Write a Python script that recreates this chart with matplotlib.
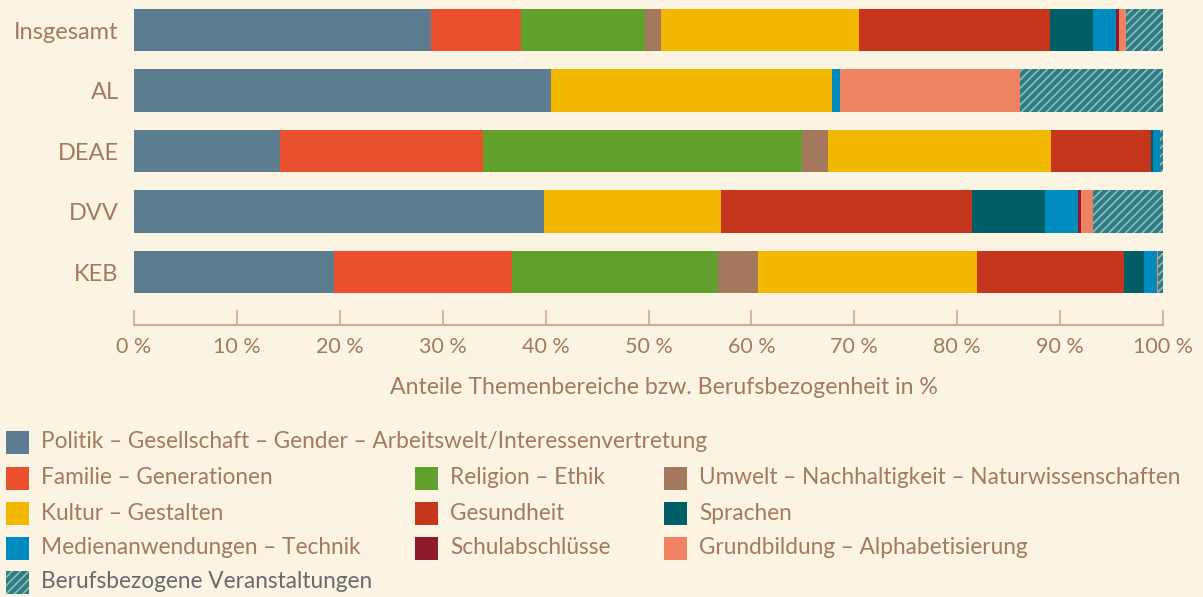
import numpy as np
import matplotlib.pyplot as plt
from matplotlib.patches import Rectangle

plt.rcParams['font.family'] = ['Lato', 'DejaVu Sans']
plt.rcParams['hatch.linewidth'] = 1.2

# Daten (Anteile in %)
groups = ['Insgesamt', 'AL', 'DEAE', 'DVV', 'KEB']

politik = [28.9, 40.5, 14.2, 39.8, 19.4]
familie = [8.7, 0.0, 19.7, 0.0, 17.3]
religion = [12.1, 0.0, 31.0, 0.0, 20.1]
umwelt = [1.5, 0.0, 2.5, 0.0, 3.8]
kultur = [19.3, 27.3, 21.7, 17.2, 21.3]
gesundheit = [18.5, 0.0, 9.7, 24.4, 14.3]
sprachen = [4.2, 0.0, 0.2, 7.1, 2.0]
medien = [2.2, 0.8, 0.7, 3.2, 1.2]
schule = [0.3, 0.0, 0.0, 0.3, 0.0]
grundbildung = [0.7, 17.5, 0.0, 1.2, 0.1]
beruf = [3.6, 13.9, 0.3, 6.8, 0.5]

labels = ['Politik – Gesellschaft – Gender – Arbeitswelt/Interessenvertretung',
          'Familie – Generationen', 'Religion – Ethik',
          'Umwelt – Nachhaltigkeit – Naturwissenschaften',
          'Kultur – Gestalten', 'Gesundheit', 'Sprachen',
          'Medienanwendungen – Technik', 'Schulabschlüsse',
          'Grundbildung – Alphabetisierung', 'Berufsbezogene Veranstaltungen']
series = [politik, familie, religion, umwelt, kultur, gesundheit,
          sprachen, medien, schule, grundbildung, beruf]
colors = ['#5b7d8f', '#e9502e', '#62a02e', '#a3785c', '#f2b800', '#c5361c',
          '#005f66', '#008bbf', '#8e1a2c', '#f08264', '#2e7b81']

bg = '#fcf4e3'
txt = '#a47a5d'

fig = plt.figure(figsize=(12.03, 5.97), dpi=100, facecolor=bg)
ax = fig.add_axes([134 / 1203, 1 - 325 / 597, 1029 / 1203, 325 / 597])
ax.set_facecolor(bg)

y = np.arange(len(groups))
left = np.zeros(len(groups))
for i, (vals, c) in enumerate(zip(series, colors)):
    if i == len(series) - 1:
        ax.barh(y, vals, left=left, height=0.7, color=c, edgecolor='#8cbcbf',
                linewidth=0, hatch='////')
    else:
        ax.barh(y, vals, left=left, height=0.7, color=c, linewidth=0)
    left += np.array(vals)

ax.set_xlim(0, 100)
ax.set_ylim(4 + 0.876, -0.496)
ax.set_yticks(y)
ax.set_yticklabels(groups)
ax.set_xticks(np.arange(0, 101, 10))
ax.set_xticklabels([f'{v} %' for v in range(0, 101, 10)])

for s in ['top', 'right', 'left']:
    ax.spines[s].set_visible(False)
ax.spines['bottom'].set_color('#cfab90')
ax.spines['bottom'].set_linewidth(1.5)
ax.tick_params(axis='y', length=0, pad=11, labelsize=17, labelcolor=txt)
ax.tick_params(axis='x', direction='in', length=11, width=1.2, color='#cfab90',
               pad=9, labelsize=15.5, labelcolor=txt)

fig.text(664 / 1203, 1 - 387 / 597, 'Anteile Themenbereiche bzw. Berufsbezogenheit in %',
         ha='center', va='center', fontsize=16.7, color=txt)

# Legende
legend_pos = [(6, 442), (6, 478), (415, 478), (664, 478), (6, 513), (415, 513),
              (664, 513), (6, 548), (415, 548), (664, 548), (6, 582)]
W, H = 1203, 597
for i, (px, py) in enumerate(legend_pos):
    hatch = '////' if i == len(labels) - 1 else None
    fig.patches.append(Rectangle((px / W, 1 - (py + 11.5) / H), 23 / W, 23 / H,
                                 transform=fig.transFigure, facecolor=colors[i],
                                 edgecolor='#8cbcbf' if hatch else colors[i],
                                 linewidth=0, hatch=hatch))
    fig.text((px + 35) / W, 1 - py / H, labels[i], ha='left', va='center',
             fontsize=16.3, color='#6a6a6a' if hatch else txt)

fig.savefig('out.png', dpi=100, facecolor=bg)
